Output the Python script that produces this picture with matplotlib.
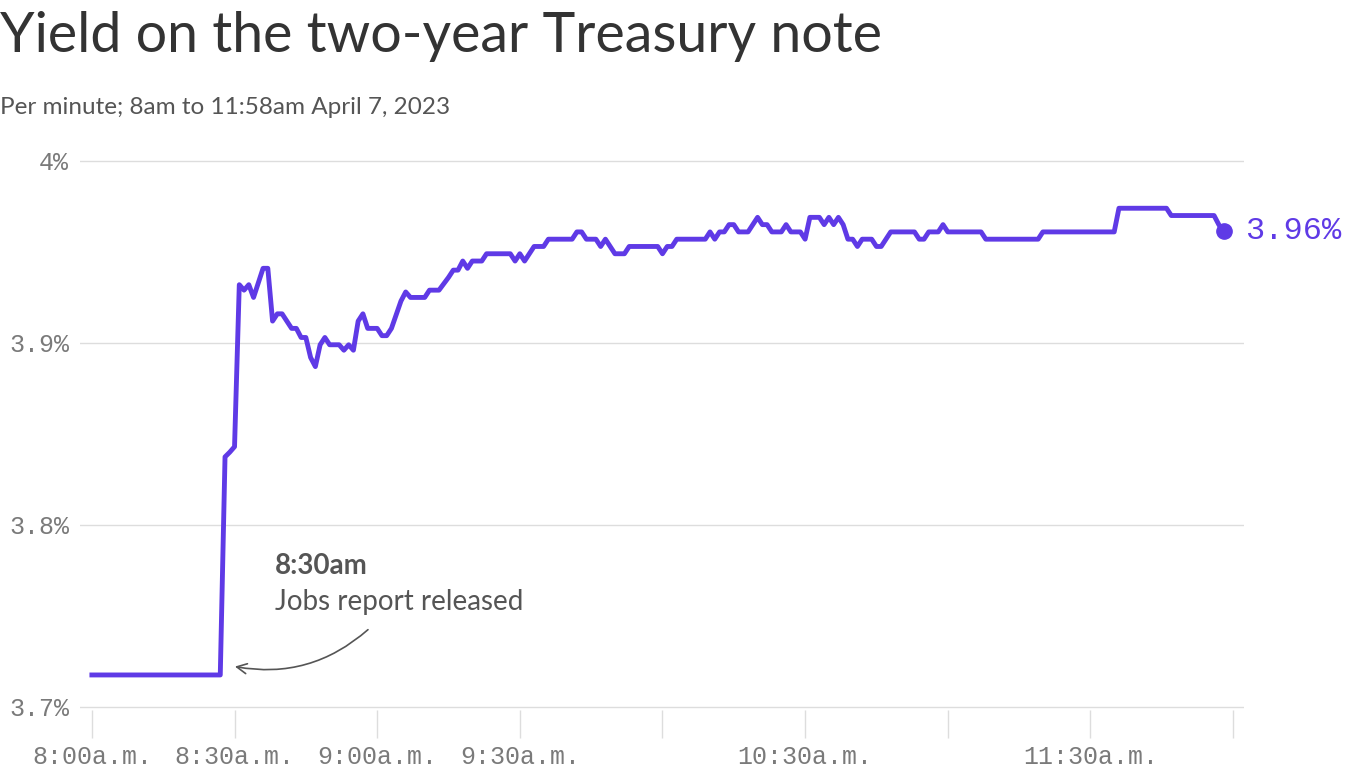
import matplotlib.pyplot as plt

# minutes after 8:00am and yield (%)
minutes = [0, 27, 28, 29, 30, 31, 32, 33, 34, 36, 37, 38, 39, 40, 42, 43, 44, 45, 46, 47,
           48, 49, 50, 52, 53, 54, 55, 56, 57, 58, 60, 61, 62, 63, 65, 66, 67, 70, 71, 73,
           75, 76, 77, 78, 79, 80, 82, 83, 88, 89, 90, 91, 93, 95, 96, 101, 102, 103, 104, 106,
           107, 108, 110, 112, 113, 119, 120, 121, 122, 123, 129, 130, 131, 132, 133, 134, 135, 136, 138, 139,
           140, 141, 142, 143, 145, 146, 147, 149, 150, 151, 153, 154, 155, 156, 157, 158, 159, 160, 161, 162,
           164, 165, 166, 168, 173, 174, 175, 176, 178, 179, 180, 187, 188, 199, 200, 215, 216, 226, 227, 236,
           237, 238]
yields = [3.7176, 3.7176, 3.8374, 3.840, 3.843, 3.932, 3.929, 3.932, 3.925, 3.941, 3.941, 3.912, 3.916, 3.916, 3.908, 3.908, 3.903, 3.903, 3.892, 3.887,
          3.899, 3.903, 3.899, 3.899, 3.896, 3.899, 3.896, 3.912, 3.916, 3.908, 3.908, 3.904, 3.904, 3.908, 3.923, 3.928, 3.925, 3.925, 3.929, 3.929,
          3.936, 3.940, 3.940, 3.945, 3.941, 3.945, 3.945, 3.949, 3.949, 3.945, 3.949, 3.945, 3.953, 3.953, 3.957, 3.957, 3.961, 3.961, 3.957, 3.957,
          3.953, 3.957, 3.949, 3.949, 3.953, 3.953, 3.949, 3.953, 3.953, 3.957, 3.957, 3.961, 3.957, 3.961, 3.961, 3.965, 3.965, 3.961, 3.961, 3.965,
          3.969, 3.965, 3.965, 3.961, 3.961, 3.965, 3.961, 3.961, 3.957, 3.969, 3.969, 3.965, 3.969, 3.965, 3.969, 3.965, 3.957, 3.957, 3.953, 3.957,
          3.957, 3.953, 3.953, 3.961, 3.961, 3.957, 3.957, 3.961, 3.961, 3.965, 3.961, 3.961, 3.957, 3.957, 3.961, 3.961, 3.974, 3.974, 3.970, 3.970,
          3.965, 3.9615]

tick_pos = [0, 30, 60, 90, 120, 150, 180, 210, 240]
tick_labels = ["8:00a.m.", "8:30a.m.", "9:00a.m.", "9:30a.m.", "", "10:30a.m.", "", "11:30a.m.", ""]
y_ticks = [3.7, 3.8, 3.9, 4.0]
y_labels = ["3.7%", "3.8%", "3.9%", "4%"]

PURPLE = "#5f3ae6"
GRAY = "#7a7a7a"
MONO = "Liberation Mono"
SANS = "Lato"

W, H = 1366, 768
fig = plt.figure(figsize=(W / 100, H / 100), dpi=100)
ax = fig.add_axes([80 / W, 1 - 710 / H, (1244 - 80) / W, (710 - 150) / H])
ax.set_xlim(-2.5, 242.3)
ax.set_ylim(3.69835, 4.006)

ax.plot(minutes, yields, color=PURPLE, lw=3.5, solid_joinstyle="round", zorder=3, clip_on=False)
ax.plot(minutes[-1], yields[-1], "o", color=PURPLE, ms=11, zorder=4, clip_on=False)
ax.text(242.3 + 0.3, yields[-1], "3.96%", color=PURPLE, family=MONO, fontsize=23, va="center", ha="left")

for s in ax.spines.values():
    s.set_visible(False)
ax.set_yticks(y_ticks)
ax.set_yticklabels(y_labels, family=MONO, fontsize=18, color=GRAY)
ax.yaxis.grid(True, color="#dddddd", lw=1)
ax.tick_params(axis="y", length=0, pad=8)
ax.set_xticks(tick_pos)
ax.set_xticklabels(tick_labels, family=MONO, fontsize=18, color=GRAY)
ax.tick_params(axis="x", length=20, color="#dddddd", width=1, pad=5)
ax.set_axisbelow(True)

ax.text(38.5, 3.7775, "8:30am", fontsize=20, fontweight="bold", color="#555555", family=SANS, va="center")
ax.text(38.5, 3.7575, "Jobs report released", fontsize=20, color="#555555", family=SANS, va="center")
ax.annotate("", xy=(29.5, 3.7225), xytext=(58.5, 3.7435),
            arrowprops=dict(arrowstyle="->", color="#555555", lw=1.2,
                            connectionstyle="arc3,rad=-0.25", mutation_scale=18))

fig.text(0, 1 - 36 / H, "Yield on the two-year Treasury note", fontsize=40, color="#333333",
         family=SANS, va="center", ha="left")
fig.text(0, 1 - 108 / H, "Per minute; 8am to 11:58am April 7, 2023", fontsize=17.5, color="#555555",
         family=SANS, va="center", ha="left")

fig.savefig("out.png", dpi=100)
